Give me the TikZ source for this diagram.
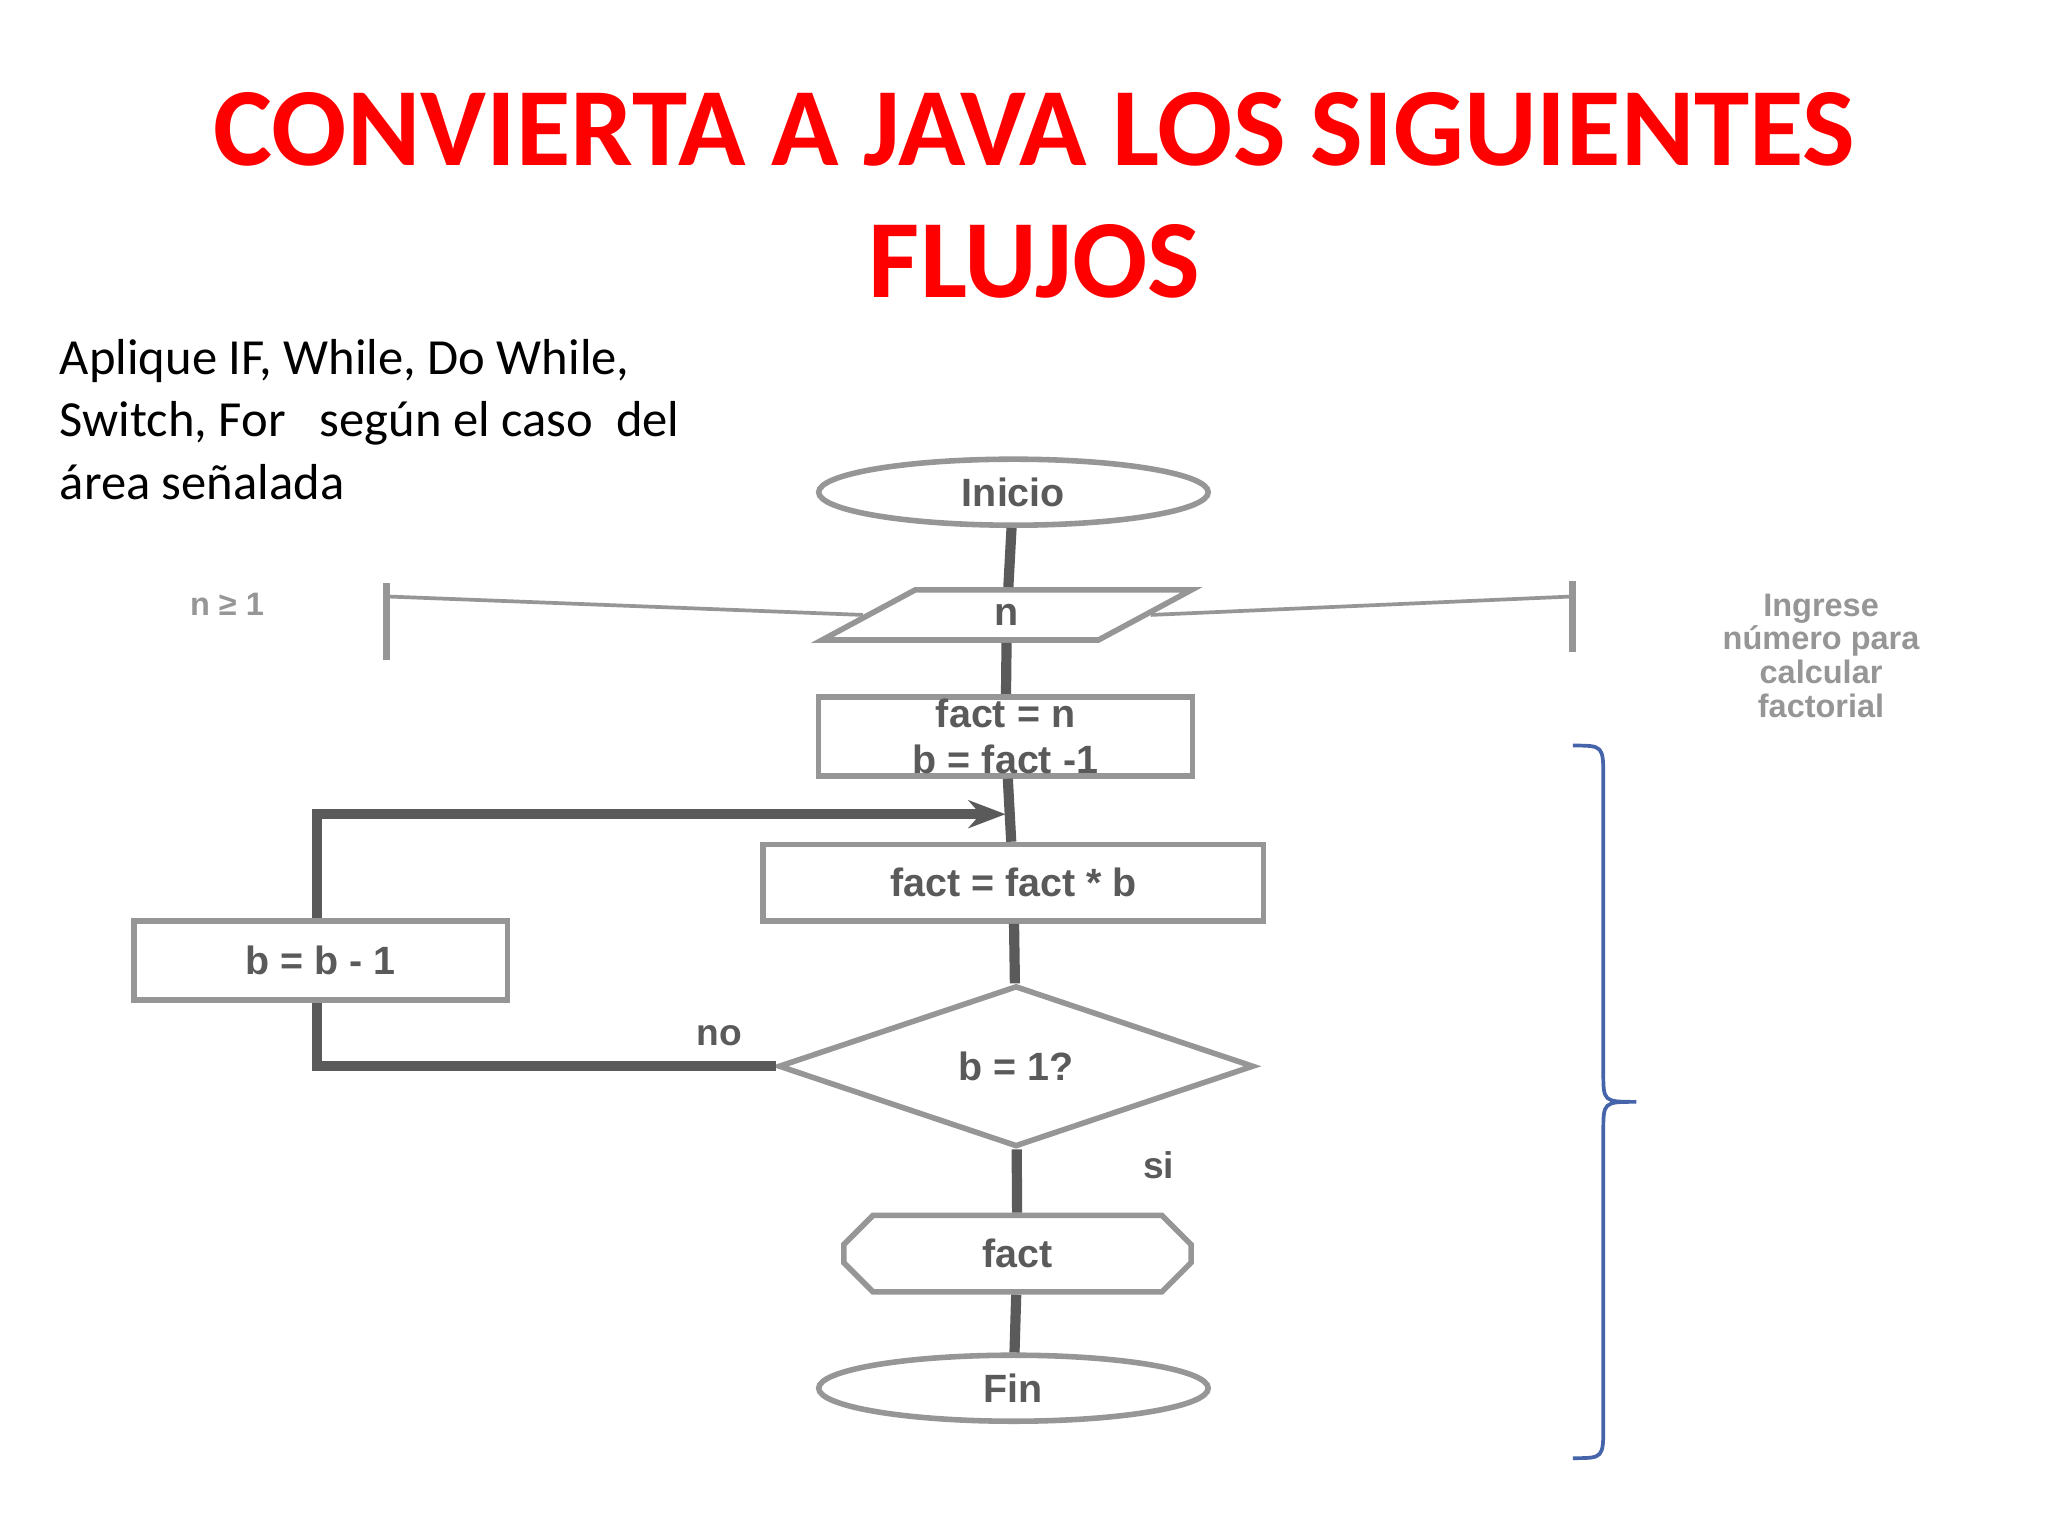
\documentclass[tikz,border=0pt]{standalone}
\usepackage{fontspec}
\setmainfont{Carlito}
\newfontfamily\chartfont{Liberation Sans}
\usetikzlibrary{shapes.geometric,shapes.misc,arrows.meta}
\definecolor{fg}{RGB}{90,90,90}
\definecolor{lg}{RGB}{150,150,150}
\definecolor{br}{RGB}{70,100,170}
\begin{document}
\begin{tikzpicture}[x=0.01cm,y=-0.01cm,
  chart/.style={draw=lg,line width=1.2pt,text=fg,font=\chartfont\bfseries\fontsize{8.5}{10}\selectfont,inner sep=0pt},
  flow/.style={draw=fg,line width=2.2pt},
  note/.style={text=lg,font=\chartfont\bfseries\fontsize{7}{8}\selectfont,align=center}]
\useasboundingbox[fill=white] (0,0) rectangle (1552,1164);
\node[text=red,font=\bfseries\fontsize{24}{28.4}\selectfont,align=center] (title) at (784,148) {CONVIERTA A JAVA LOS SIGUIENTES\\FLUJOS};
\node[anchor=north west,align=left,font=\fontsize{10.9}{13.4}\selectfont] (instr) at (33,245) {Aplique IF, While, Do While,\\Switch, For \ \ según el caso \ del\\área señalada};
% nodes
\node[chart,ellipse,minimum width=2.95cm,minimum height=0.5cm] (ini) at (768,373) {Inicio};
\node[chart,trapezium,trapezium left angle=60,trapezium right angle=120,minimum width=2.8cm,minimum height=0.38cm,trapezium stretches=true] (n) at (763,466) {n};
\node[chart,rectangle,minimum width=2.83cm,minimum height=0.6cm,align=center] (f1) at (762,558) {fact = n\\b = fact -1};
\node[chart,rectangle,minimum width=3.79cm,minimum height=0.58cm] (f2) at (768,669) {fact = fact * b};
\node[chart,rectangle,minimum width=2.83cm,minimum height=0.6cm] (bb) at (243,728) {b = b - 1};
\node[chart,diamond,aspect=3,minimum width=3.6cm,minimum height=1.22cm] (d) at (770,808) {b = 1?};
\node[chart,chamfered rectangle,chamfered rectangle xsep=0.25cm,minimum width=2.63cm,minimum height=0.58cm] (out) at (771,950) {fact};
\node[chart,ellipse,minimum width=2.95cm,minimum height=0.5cm] (fin) at (768,1052) {Fin};
% flows
\draw[flow] (ini) -- (n);
\draw[flow] (n) -- (f1);
\draw[flow] (f1) -- (f2);
\draw[flow] (f2) -- (d);
\draw[flow] (d) -- (out);
\draw[flow] (out) -- (fin);
\coordinate (c1) at (240,808);
\coordinate (c2) at (240,617);
\coordinate (c3) at (762,617);
\draw[flow] (d.west) -- (c1) -- (bb.south -| c1);
\draw[flow,-{Stealth[length=8pt]}] (bb.north -| c2) -- (c2) -- (c3);
\node[text=fg,font=\chartfont\bfseries\fontsize{8}{10}\selectfont] (no) at (545,785) {no};
\node[text=fg,font=\chartfont\bfseries\fontsize{8}{10}\selectfont] (si) at (878,883) {si};
% annotations
\node[note] (nge) at (172,458) {n ≥ 1};
\coordinate (lt) at (293,442); \coordinate (lb) at (293,500);
\draw[lg,line width=1.5pt] (lt) -- (lb);
\draw[lg,line width=0.8pt] (293,452) -- (n.west);
\coordinate (rt) at (1192,440); \coordinate (rb) at (1192,494);
\draw[lg,line width=1.5pt] (rt) -- (rb);
\draw[lg,line width=0.8pt] (n.east) -- (1192,452);
\node[note,font=\chartfont\bfseries\fontsize{7}{7.3}\selectfont] (ing) at (1380,497) {Ingrese\\número para\\calcular\\factorial};
% brace
\draw[br,line width=0.8pt] (1192,565) .. controls (1215,565) .. (1215,590) -- (1215,812) .. controls (1215,835) .. (1240,835) .. controls (1215,835) .. (1215,858) -- (1215,1080) .. controls (1215,1105) .. (1192,1105);
\end{tikzpicture}
\end{document}
